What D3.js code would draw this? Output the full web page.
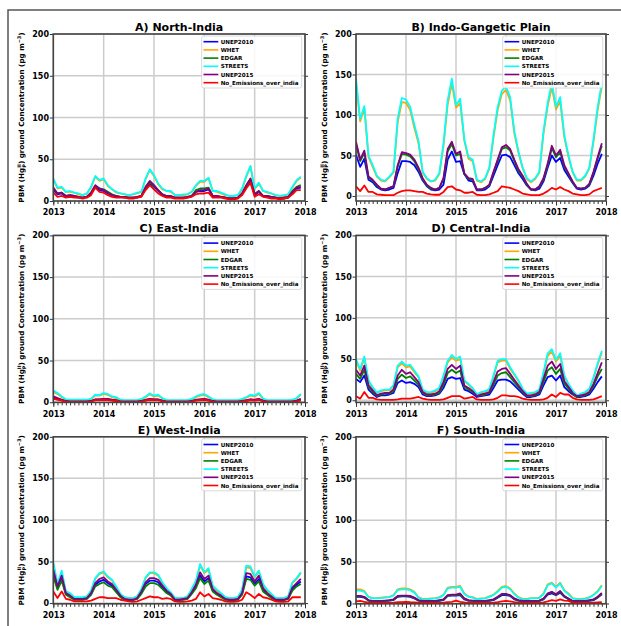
<!DOCTYPE html>
<html><head><meta charset="utf-8">
<script src="https://cdn.jsdelivr.net/npm/d3@7"></script>
<style>body{margin:0;background:#fff} svg{display:block} text{font-family:"DejaVu Sans",sans-serif;font-weight:bold}</style>
</head><body><svg id="c" width="621" height="626"></svg>
<script>
const years = [2013,2014,2015,2016,2017,2018];
const yTicks = [0,50,100,150,200];
const seriesNames = ["UNEP2010","WHET","EDGAR","STREETS","UNEP2015","No_Emissions_over_india"];
const seriesColors = ["#0000ff","#ffa500","#008000","#00ffff","#800080","#ff0000"];
const panelTitles = ["A) North-India","B) Indo-Gangetic Plain","C) East-India","D) Central-India","E) West-India","F) South-India"];
const startYear = 2013, nMonths = 60;

// A) North-India
const STREETS_A = [27,16,17,11,12,10,9,7,9,17,30,25, 27,19,14,11,9,8,7,8,10,11,27,38, 31,21,15,12,12,7,7,8,8,11,19,24, 24,28,12,12,10,8,6,6,7,15,30,42, 15,22,12,11,9,7,6,7,8,17,25,29];
const WHET_A = [26,15,16,11,11,10,8,7,9,16,29,24, 26,18,14,10,9,8,7,8,9,11,26,37, 30,20,14,12,11,7,7,7,8,11,18,23, 23,27,12,11,9,7,6,6,7,14,29,41, 14,21,12,10,9,7,6,6,8,16,24,28];
const UNEP2015_A = [16,9,10,6,7,6,5,4,5,10,19,15, 13,10,7,6,5,5,4,4,5,6,17,24, 19,13,8,6,6,4,4,4,5,6,11,13, 13,15,6,6,5,4,3,3,4,9,19,27, 8,12,6,6,5,4,3,4,5,11,16,17];
const EDGAR_A = [15,9,10,6,7,6,5,4,5,10,18,15, 14,11,8,6,5,5,4,4,5,6,16,23, 18,13,8,6,6,4,4,4,5,6,13,15, 15,16,6,6,5,4,3,3,4,9,18,26, 8,12,6,6,5,4,3,4,5,12,17,19];
const UNEP2010_A = [13,8,9,5,6,5,4,4,5,9,17,13, 12,9,7,5,5,4,4,4,4,6,15,21, 17,12,7,5,5,4,4,4,4,6,11,12, 12,14,6,5,5,4,3,3,4,8,17,24, 7,11,6,5,5,4,3,3,4,10,15,16];
const NOEM_A = [10,5,6,4,5,4,4,3,4,7,16,11, 10,7,5,4,4,4,3,3,4,5,13,19, 14,9,6,4,4,3,3,3,4,5,8,9, 9,10,4,4,4,3,2,2,3,7,15,22, 5,8,5,4,3,3,2,3,4,8,13,13];

// B) Indo-Gangetic Plain
const STREETS_B = [145,95,111,50,38,25,20,19,24,30,95,121, 119,110,88,68,30,22,18,20,28,65,118,145, 112,120,70,48,45,20,18,22,35,75,110,130, 135,122,80,55,35,22,18,22,30,80,115,140, 110,122,75,50,30,20,20,25,35,70,110,140];
const WHET_B = [140,92,108,48,36,24,19,18,23,29,91,116, 115,106,84,65,29,21,18,19,27,62,113,139, 109,115,68,46,43,19,17,21,34,72,106,126, 131,118,77,53,34,21,17,21,29,77,111,134, 107,117,72,48,29,19,19,24,34,67,106,135];
const UNEP2015_B = [67,45,56,24,20,14,9,8,10,12,38,54, 53,51,45,35,22,14,10,8,10,22,58,67, 52,55,28,22,21,8,8,10,14,30,45,60, 63,58,45,33,25,15,8,8,12,22,40,62, 50,57,38,28,18,10,9,10,15,30,48,65];
const EDGAR_B = [64,43,53,23,19,13,9,8,10,12,36,52, 51,49,43,33,21,13,9,8,10,21,55,64, 50,52,27,21,20,8,8,10,13,29,43,58, 60,56,43,31,24,14,8,8,11,21,38,59, 48,54,36,27,17,10,9,10,14,29,46,62];
const UNEP2010_B = [51,36,46,20,17,11,8,7,8,10,28,43, 43,42,38,30,19,12,8,7,8,14,45,55, 42,43,27,19,18,7,7,8,12,25,38,50, 51,48,38,28,21,13,8,7,9,18,35,50, 42,47,32,24,16,9,8,9,13,25,40,52];
const NOEM_B = [12,6,13,5,5,2,1.5,1,1,1,4,6, 7,7,6,5,5,3,2,1.5,1.5,5,11,12, 8,7,4,4,5,1.5,1,1,2,4,6,12, 11,10,8,6,3,2,1,1,1,3,6,10, 8,11,8,6,3,2,1,1,2,6,8,10];

// C) East-India
const STREETS_C = [14,11,7,3.5,3,3,3,3,3,4,9,8.5, 11,10,7,6,3,2.5,2.5,2.5,2.5,4,7,10.5, 8,9,5,2.5,2.5,2.5,2.5,2.5,2.5,4,7,9, 10,7,3.5,2.5,2.5,2.5,2.5,2.5,2.5,4,6,9, 8,11,4.5,2.5,2.5,2.5,2.5,2.5,2.5,3,5,10];
const WHET_C = [12,10,6,3,2.5,2.5,2.5,2.5,2.5,3.5,8,8, 10,9,6,5,2.5,2,2,2,2,3.5,6,9.5, 7,8,4.5,2,2,2,2,2,2,3.5,6,8, 9,6,3,2,2,2,2,2,2,3.5,5.5,8, 7,10,4,2,2,2,2,2,2,2.5,4.5,9];
const UNEP2015_C = [7,5,3,1.5,1,1,1,1,1,1.5,3.5,3.5, 4,4,3,2.5,1,1,1,1,1,1.5,3,4, 3.5,3.5,2,1,1,1,1,1,1,1.5,3,3.5, 4,3,1.5,1,1,1,1,1,1,1.5,2.5,3.5, 3,4,2,1,1,1,1,1,1,1,2,4];
const EDGAR_C = [6,4.5,3,1.5,1,1,1,1,1,1.5,3,3, 3.5,3.5,2.5,2,1,1,1,1,1,1.5,2.5,3.5, 3,3,2,1,1,1,1,1,1,1.5,2.5,3, 3.5,2.5,1.5,1,1,1,1,1,1,1.5,2,3, 2.5,3.5,2,1,1,1,1,1,1,1,2,3.5];
const UNEP2010_C = [5.5,4,2.5,1,0.8,0.8,0.8,0.8,0.8,1,3,3, 3.5,3,2.5,2,0.8,0.8,0.8,0.8,0.8,1,2.5,3.5, 3,3,1.5,0.8,0.8,0.8,0.8,0.8,0.8,1,2.5,3, 3.5,2.5,1,0.8,0.8,0.8,0.8,0.8,0.8,1,2,3, 2.5,3.5,1.5,0.8,0.8,0.8,0.8,0.8,0.8,0.8,1.5,3];
const NOEM_C = [4,3,2,0.8,0.5,0.5,0.5,0.5,0.5,0.8,2.5,2.5, 3,2.5,2,1.5,0.5,0.5,0.5,0.5,0.5,0.8,2,3, 2.5,2.5,1,0.5,0.5,0.5,0.5,0.5,0.5,0.8,2,2.5, 3,2,0.8,0.5,0.5,0.5,0.5,0.5,0.5,0.8,1.5,2.5, 2,3,1,0.5,0.5,0.5,0.5,0.5,0.5,0.5,1,2];

// D) Central-India
const STREETS_D = [50,38,53,24,16,9,12,13,13,18,42,47, 42,43,36,29,13,10,10,12,15,30,48,55, 50,53,24,20,15,7,10,11,14,30,48,50, 50,40,32,24,14,8,9,10,13,34,57,62, 49,57,30,20,12,6,8,10,14,28,45,60];
const WHET_D = [48,36,51,23,15,9,11,12,12,17,40,45, 40,41,34,28,12,9,9,11,14,29,46,52, 48,50,23,19,14,7,9,10,13,29,46,48, 48,38,31,23,13,8,8,9,12,32,54,59, 47,54,29,19,11,6,7,9,13,27,43,58];
const UNEP2015_D = [37,30,42,18,12,6,8,9,9,13,30,37, 32,34,28,22,10,7,7,8,11,22,38,43, 38,42,18,15,11,5,7,8,10,22,35,38, 39,32,25,18,11,6,6,7,10,26,42,47, 38,44,23,16,9,5,6,7,10,20,33,46];
const EDGAR_D = [32,26,37,16,10,5,7,8,8,11,26,31, 27,29,24,19,9,6,6,7,9,19,33,37, 33,36,16,13,10,5,6,7,9,19,30,33, 34,28,22,16,10,5,5,6,9,22,36,40, 32,38,20,14,8,4,5,6,9,17,29,38];
const UNEP2010_D = [26,22,30,13,8,4,6,6,7,9,21,24, 21,22,20,16,7,5,5,6,8,15,26,28, 26,27,13,11,8,4,5,6,7,15,24,25, 25,23,18,13,8,4,4,5,7,18,28,30, 24,30,16,11,7,4,4,5,7,14,22,29];
const NOEM_D = [5,2,10,3,3,1,0.5,0.5,0.5,0.5,1,2, 2,2,3,4,2,1,0.5,0.5,0.5,1,3,5, 5,5,2,3,4,1,0.5,0.5,0.5,1,3,6, 6,5,5,4,2,1,0.5,0.5,0.5,1,3,7, 4,9,7,7,3,1,0.5,0.5,0.5,1,3,5];

// E) West-India
const STREETS_E = [49,23,39,14,12,7,7,7,8,15,30,36, 38,32,28,20,11,7,6,6,8,17,31,37, 37,34,25,18,13,6,6,6,8,17,27,47, 37,42,21,16,12,7,6,6,7,16,45,44, 32,39,23,16,11,6,6,6,8,25,30,37];
const WHET_E = [47,22,37,13,11,7,6,6,8,14,29,35, 37,31,27,19,10,7,6,6,8,16,30,36, 36,33,24,17,12,6,6,6,8,16,26,45, 36,40,20,15,11,7,6,6,7,15,43,42, 31,38,22,15,10,6,6,6,8,24,29,36];
const UNEP2015_E = [40,20,33,12,9,5,5,5,6,12,24,29, 31,26,23,16,9,5,4,4,6,14,25,30, 30,28,21,15,11,4,4,5,6,13,22,37, 29,33,17,12,9,5,4,4,5,12,36,35, 26,33,18,12,8,4,4,4,6,19,24,29];
const EDGAR_E = [32,16,27,10,7,4,4,4,5,10,20,23, 25,21,19,13,7,4,3.5,3.5,5,11,20,24, 24,22,17,12,9,3.5,3.5,4,5,11,18,30, 23,27,14,10,7,4,3.5,3.5,4,10,29,28, 21,26,14,10,6,3.5,3.5,3.5,5,15,20,23];
const UNEP2010_E = [36,18,30,11,8,4.5,4.5,4.5,5.5,11,22,26, 28,24,21,15,8,4.5,4,4,5.5,13,23,27, 27,25,19,13,10,4,4,4.5,5.5,12,20,33, 26,30,15,11,8,4.5,4,4,4.5,11,32,31, 23,29,16,11,7,4,4,4,5.5,17,22,26];
const NOEM_E = [14,6,14,5,4,2,2,2,2,3,5,7, 7,6,6,6,4,3,2,1.5,2,4,6,8, 7,7,5,6,5,2,1.5,1.5,2,3,5,13, 8,11,6,5,4,2,1.5,1.5,2,4,13,10, 6,11,7,6,4,2,1.5,1.5,2,7,7,7];

// F) South-India
const STREETS_F = [15.5,15.5,14,7.5,6,6,6.5,7,7.5,9.5,16,17, 17,16,13,7,5,5,5.5,6,7,10,18,19, 19,20,11,8,7,5,5.5,6,8,10,14,19, 20,17,11,7,5,5,6,6,6.5,11,22,24, 19,24,15,11,6,5,5,5.5,7,10,14,21];
const WHET_F = [17,17,15,8,6.5,6.5,7,7.5,8,10,17,18, 18,17,14,7.5,5.5,5.5,6,6.5,7.5,10.5,19,20, 20,21,12,8.5,7.5,5.5,6,6.5,8.5,10.5,15,20, 21,18,12,7.5,5.5,5.5,6.5,6.5,7,12,23,25, 20,25,16,12,6.5,5.5,5.5,6,7.5,10.5,15,22];
const UNEP2015_F = [9,9,8,4,3,3,3,3.5,4,5,9,9.5, 9.5,9,7,4,3,3,3,3,4,5,10,10.5, 10.5,12,6,4,3.5,3,3,3,4,5,8,11.5, 11.5,10,6,4,3,3,3,3,3.5,6,12,14, 11,15,9,6,3,3,3,3,4,5,8,12.5];
const EDGAR_F = [8.5,8.5,7.5,3.5,2.8,2.8,2.8,3,3.5,4.5,8.5,9, 9,8.5,6.5,3.5,2.8,2.8,2.8,2.8,3.5,4.5,9.5,10, 10,11,5.5,3.5,3,2.8,2.8,2.8,3.5,4.5,7.5,11, 11,9.5,5.5,3.5,2.8,2.8,2.8,2.8,3,5.5,11.5,13.5, 10.5,14,8.5,5.5,2.8,2.8,2.8,2.8,3.5,4.5,7.5,12];
const UNEP2010_F = [8,8,7,3.5,2.5,2.5,2.5,3,3.5,4,8,8.5, 8.5,8,6,3.5,2.5,2.5,2.5,2.5,3,4,9,9.5, 9.5,10,5,3.5,3,2.5,2.5,2.5,3,4,7,10, 10,9,5,3.5,2.5,2.5,2.5,2.5,3,5,10.5,12, 10,13,8,5,2.5,2.5,2.5,2.5,3,4,7,11];
const NOEM_F = [2.5,3,2,1,0.8,0.8,0.8,0.8,0.8,1,1.5,1.5, 2,1.5,1.2,1,0.8,0.8,0.8,0.8,0.8,1,1.5,2, 3.5,2,1.2,1,0.8,0.8,0.8,0.8,0.8,1,1.5,2.5, 3,2.5,1.5,1,0.8,0.8,0.8,0.8,0.8,1.2,2.5,4, 3,5,3.5,3,1,0.8,0.8,0.8,0.8,1,1.2,1.5];

const panelSeries = [
  [UNEP2010_A, WHET_A, EDGAR_A, STREETS_A, UNEP2015_A, NOEM_A],
  [UNEP2010_B, WHET_B, EDGAR_B, STREETS_B, UNEP2015_B, NOEM_B],
  [UNEP2010_C, WHET_C, EDGAR_C, STREETS_C, UNEP2015_C, NOEM_C],
  [UNEP2010_D, WHET_D, EDGAR_D, STREETS_D, UNEP2015_D, NOEM_D],
  [UNEP2010_E, WHET_E, EDGAR_E, STREETS_E, UNEP2015_E, NOEM_E],
  [UNEP2010_F, WHET_F, EDGAR_F, STREETS_F, UNEP2015_F, NOEM_F]
];

const svg = d3.select("#c");
// figure frame
svg.append("path").attr("d","M8,700V10H700").attr("fill","none").attr("stroke","#555").attr("stroke-width",1.5);

const colL = [53.3, 356], colW = [251.7, 250];
const rowT = [34, 235.4, 436.8], H = 167;
const monthTicks = d3.range(startYear*12, 2018*12 + 1).map(m => m/12);

panelSeries.forEach((series, p) => {
  const col = p % 2, row = Math.floor(p/2);
  const L = colL[col], R = L + colW[col], T = rowT[row], B = T + H;
  const all = series.flat();
  const dmin = d3.min(all), dmax = d3.max(all);
  const ymin = dmin - 0.05*(dmax - dmin);
  const x = d3.scaleLinear().domain([2013, 2018]).range([L, R]);
  const y = d3.scaleLinear().domain([ymin, 200]).range([B, T]);
  const g = svg.append("g");

  // grid
  g.selectAll(".vg").data(years).enter().append("line")
    .attr("x1", d=>x(d)).attr("x2", d=>x(d)).attr("y1", T).attr("y2", B)
    .attr("stroke","#cccccc").attr("stroke-width",1.5);
  g.selectAll(".hg").data(yTicks).enter().append("line")
    .attr("x1", L).attr("x2", R).attr("y1", d=>y(d)).attr("y2", d=>y(d))
    .attr("stroke","#cccccc").attr("stroke-width",1.5);

  // clip
  const cid = "clip"+p;
  svg.append("clipPath").attr("id",cid).append("rect").attr("x",L).attr("y",T).attr("width",R-L).attr("height",H);

  const line = d3.line().x((d,i)=>x(startYear + i/12)).y(d=>y(d));
  series.forEach((s, k) => {
    g.append("path").datum(s).attr("d", line).attr("fill","none")
      .attr("stroke", seriesColors[k]).attr("stroke-width",1.8)
      .attr("stroke-linejoin","round").attr("clip-path",`url(#${cid})`);
  });

  const styleAxis = (sel) => {
    sel.select(".domain").remove();
    sel.selectAll("line").attr("stroke","#333").attr("stroke-width",1);
    sel.selectAll("text").attr("font-size",8).attr("font-weight","bold")
      .attr("font-family","DejaVu Sans, sans-serif").attr("fill","#000");
  };
  g.append("g").attr("transform",`translate(${L},0)`)
    .call(d3.axisLeft(y).tickValues(yTicks).tickSize(3.5).tickPadding(0.8)).call(styleAxis);
  g.append("g").attr("transform",`translate(${R},0)`)
    .call(d3.axisRight(y).tickValues(yTicks).tickSize(3).tickFormat("")).call(styleAxis);
  g.append("g").attr("transform",`translate(0,${B})`)
    .call(d3.axisBottom(x).tickValues(monthTicks).tickSize(3).tickFormat("")).call(styleAxis);
  g.append("g").attr("transform",`translate(0,${B})`)
    .call(d3.axisBottom(x).tickValues(years).tickSize(4.5).tickPadding(4).tickFormat(d3.format("d"))).call(styleAxis);

  // spines
  g.append("rect").attr("x",L).attr("y",T).attr("width",R-L).attr("height",H)
    .attr("fill","none").attr("stroke","#444").attr("stroke-width",1.6);

  // title
  g.append("text").attr("x",(L+R)/2).attr("y",T-3.3).attr("text-anchor","middle")
    .attr("font-size",11).text(panelTitles[p]);

  // y label
  const yl = g.append("text").attr("transform",`translate(${L-29.3},${(T+B)/2}) rotate(-90)`)
    .attr("text-anchor","middle").attr("font-size",7.2);
  yl.append("tspan").text("PBM (Hg");
  yl.append("tspan").attr("font-size",5).attr("dy",1.6).text("P");
  yl.append("tspan").attr("font-size",5).attr("dx",-3.7).attr("dy",-4.6).text("II");
  yl.append("tspan").attr("dy",3).text(") ground Concentration (pg m");
  yl.append("tspan").attr("font-size",5).attr("dy",-3).text("\u22123");
  yl.append("tspan").attr("dy",3).text(")");

  // legend
  const lw = 100, lh = 52;
  const lx = R - 3.3 - lw, ly = T + 2;
  g.append("rect").attr("x",lx).attr("y",ly).attr("width",lw).attr("height",lh)
    .attr("rx",2).attr("fill","#fff").attr("fill-opacity",0.85)
    .attr("stroke","#d0d0d0").attr("stroke-width",0.8);
  seriesNames.forEach((nm, k) => {
    const yy = ly + 5.7 + 8.2*k;
    g.append("line").attr("x1",lx+1.8).attr("x2",lx+16.6).attr("y1",yy).attr("y2",yy)
      .attr("stroke",seriesColors[k]).attr("stroke-width",1.6);
    g.append("text").attr("x",lx+19).attr("y",yy).attr("dy","0.36em")
      .attr("font-size",5.6).text(nm);
  });
});
</script></body></html>
